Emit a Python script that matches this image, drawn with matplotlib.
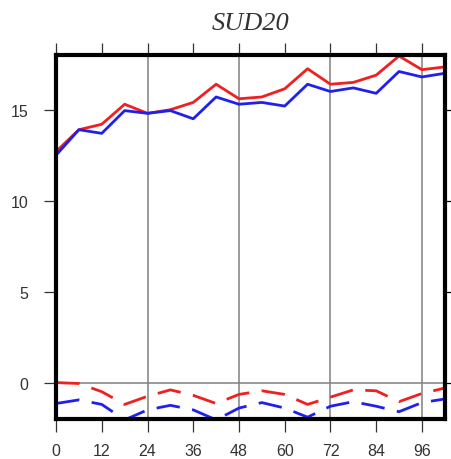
import matplotlib.pyplot as plt

hours = [0, 6, 12, 18, 24, 30, 36, 42, 48, 54, 60, 66, 72, 78, 84, 90, 96, 102]

red_solid = [12.7, 13.9, 14.2, 15.3, 14.8, 15.0, 15.4, 16.4, 15.6, 15.7,
             16.15, 17.25, 16.4, 16.5, 16.9, 17.95, 17.2, 17.35]
blue_solid = [12.5, 13.9, 13.7, 14.95, 14.8, 14.95, 14.5, 15.7, 15.3, 15.4,
              15.2, 16.4, 16.0, 16.2, 15.9, 17.1, 16.8, 17.0]
red_dash = [0.0, -0.05, -0.5, -1.2, -0.75, -0.4, -0.7, -1.15, -0.65, -0.45,
            -0.65, -1.2, -0.8, -0.4, -0.45, -1.05, -0.6, -0.3]
blue_dash = [-1.15, -0.95, -1.2, -2.05, -1.5, -1.25, -1.5, -2.05, -1.4, -1.1,
             -1.4, -1.9, -1.3, -1.05, -1.3, -1.6, -1.1, -0.9]

xticks = [0, 12, 24, 36, 48, 60, 72, 84, 96]
yticks = [0, 5, 10, 15]
grid_x = [24, 48, 72, 96]

fig = plt.figure(figsize=(4.52, 4.6), dpi=100)
ax = fig.add_axes([0.124, 0.087, 0.86, 0.791])

for gx in grid_x:
    ax.axvline(gx, color="#808080", lw=1.1, zorder=1)
ax.axhline(0, color="#808080", lw=1.1, zorder=1)

ax.plot(hours, red_solid, color="#ee2020", lw=2, zorder=3)
ax.plot(hours, blue_solid, color="#2020ee", lw=2, zorder=3)
ax.plot(hours, red_dash, color="#ee2020", lw=2, dashes=(8.5, 4.5), zorder=3)
ax.plot(hours, blue_dash, color="#2020ee", lw=2, dashes=(8.5, 4.5), zorder=3)

ax.set_xlim(0, 102)
ax.set_ylim(-2, 18)
ax.set_xticks(xticks)
ax.set_yticks(yticks)
ax.tick_params(direction="out", length=9, width=0.9, top=True, right=False,
               labelsize=11.5, colors="#333333", pad=8)
ax.tick_params(axis="y", pad=11)
for lbl in ax.get_xticklabels() + ax.get_yticklabels():
    lbl.set_family("Liberation Sans")

sec = ax.secondary_yaxis("right")
sec.set_yticks(yticks)
sec.tick_params(direction="out", length=4, width=0.9, labelright=False)
sec.spines["right"].set_visible(False)

for s in ax.spines.values():
    s.set_linewidth(3)
    s.set_zorder(4)

ax.set_title("SUD20", family="Liberation Serif", style="italic",
             fontsize=19, color="#333333", pad=19)

fig.savefig("out.png", dpi=100)
